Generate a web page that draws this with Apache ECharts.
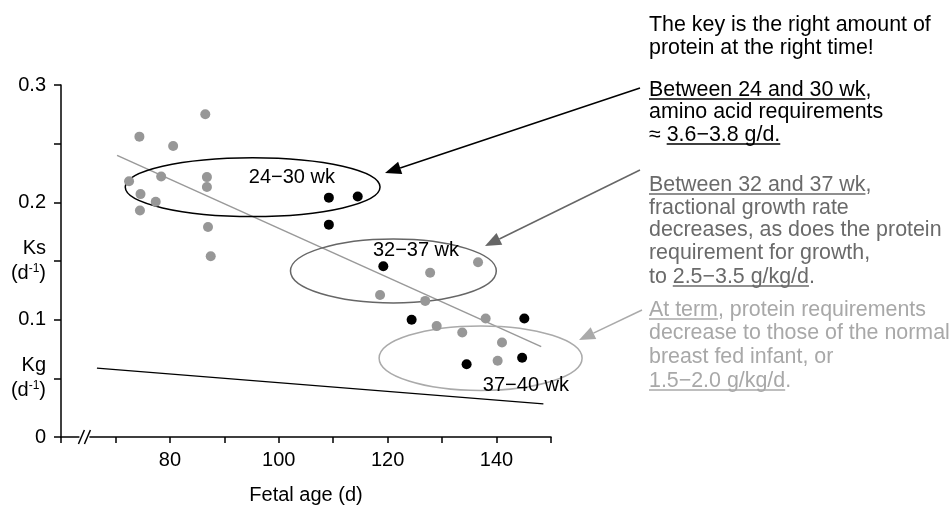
<!DOCTYPE html>
<html>
<head>
<meta charset="utf-8">
<script src="https://cdn.jsdelivr.net/npm/echarts@6/dist/echarts.min.js"></script>
<style>
  html, body { margin: 0; padding: 0; background: #fff; }
  #main { width: 950px; height: 509px; }
</style>
</head>
<body>
<div id="main"></div>
<script>
// values: fetal age (d) vs Ks (d-1)
var greyAge = [72.5, 74.4, 78.4, 74.6, 77.4, 74.5, 80.6, 86.5, 86.8, 86.8, 87.0, 87.5,
               127.8, 136.6, 118.6, 126.9, 129.0, 133.7, 138.0, 141.0, 140.2];
var greyKs  = [0.218, 0.256, 0.222, 0.207, 0.2005, 0.193, 0.248, 0.275, 0.2215, 0.213, 0.179, 0.154,
               0.140, 0.149, 0.121, 0.116, 0.0945, 0.089, 0.101, 0.0805, 0.065];
var blackAge = [109.2, 114.5, 109.2, 119.2, 124.4, 145.1, 134.5, 144.7];
var blackKs  = [0.204, 0.205, 0.181, 0.1455, 0.100, 0.101, 0.062, 0.0675];

// regression line of Ks and the Kg line (end points)
var ksFitAge = [70.3, 148.2];
var ksFit    = [0.240, 0.077];
var kgAge    = [66.6, 148.6];
var kgVal    = [0.0587, 0.0283];

// gestational groups (ellipses): centre and half widths in data units
var groupNames   = ['24−30 wk', '32−37 wk', '37−40 wk'];
var groupAge     = [95.2, 121.05, 137.07];
var groupKs      = [0.213, 0.1415, 0.0672];
var groupAgeHalf = [23.4, 18.9, 18.64];
var groupKsHalf  = [0.0251, 0.0272, 0.0275];
var groupLabelAge = [102.4, 125.2, 145.4];
var groupLabelKs  = [0.2215, 0.1588, 0.0439];

// axis ticks
var xTickLabels = [80, 100, 120, 140];
var yTickLabels = [0, 0.1, 0.2, 0.3];

var FONT = '"Liberation Sans", Arial, Helvetica, sans-serif';
var groupColors = ['#000', '#666', '#aaa'];

var myChart = echarts.init(document.getElementById('main'), null, { renderer: 'canvas' });

function pairs(xs, ys) {
  return xs.map(function (x, i) { return [x, ys[i]]; });
}

var ellipseData = groupAge.map(function (a, i) {
  return [a, groupKs[i], groupAgeHalf[i], groupKsHalf[i], groupLabelAge[i], groupLabelKs[i], i];
});

var option = {
  animation: false,
  backgroundColor: '#fff',
  textStyle: { fontFamily: FONT },
  grid: { left: 61, right: 399, top: 85, bottom: 72, containLabel: false, outerBoundsMode: 'none' },
  xAxis: {
    type: 'value', min: 60, max: 150, interval: 10,
    name: 'Fetal age (d)', nameLocation: 'middle', nameGap: 48,
    nameTextStyle: { fontSize: 20, color: '#000', fontFamily: FONT },
    axisLine: { lineStyle: { color: '#000', width: 1.5 } },
    axisTick: { length: 6, lineStyle: { color: '#000', width: 1.5 } },
    axisLabel: {
      fontSize: 20, color: '#000', margin: 13, fontFamily: FONT,
      formatter: function (v) { return xTickLabels.indexOf(v) >= 0 ? String(v) : ''; }
    },
    splitLine: { show: false }
  },
  yAxis: {
    type: 'value', min: 0, max: 0.3, interval: 0.05,
    axisLine: { show: true, lineStyle: { color: '#000', width: 1.5 } },
    axisTick: { show: true, length: 7, lineStyle: { color: '#000', width: 1.5 } },
    axisLabel: {
      fontSize: 20, color: '#000', margin: 15, fontFamily: FONT, lineHeight: 25,
      formatter: function (v) {
        var k = Math.round(v * 100);
        for (var i = 0; i < yTickLabels.length; i++) {
          if (Math.round(yTickLabels[i] * 100) === k) return String(yTickLabels[i]);
        }
        if (k === 15) return '{n|Ks}\n{n|(d}{s|-1}{n|)}';
        if (k === 5) return '{n|Kg}\n{n|(d}{s|-1}{n|)}';
        return '';
      },
      rich: {
        n: { fontSize: 20, color: '#000', fontFamily: FONT, lineHeight: 25 },
        s: { fontSize: 12, color: '#000', fontFamily: FONT, lineHeight: 25, padding: [0, 0, 10, 0] }
      }
    },
    splitLine: { show: false }
  },
  series: [
    {
      type: 'line', data: pairs(ksFitAge, ksFit), symbol: 'none',
      lineStyle: { color: '#999', width: 1.5 }, z: 2
    },
    {
      type: 'line', data: pairs(kgAge, kgVal), symbol: 'none',
      lineStyle: { color: '#000', width: 1.3 }, z: 2
    },
    {
      type: 'custom', z: 3,
      data: ellipseData,
      renderItem: function (params, api) {
        var c = api.coord([api.value(0), api.value(1)]);
        var s = api.size([api.value(2), api.value(3)]);
        var l = api.coord([api.value(4), api.value(5)]);
        var idx = api.value(6);
        return {
          type: 'group',
          children: [
            {
              type: 'ellipse',
              shape: { cx: c[0], cy: c[1], rx: s[0], ry: s[1] },
              style: { fill: 'none', stroke: groupColors[idx], lineWidth: 1.5 }
            },
            {
              type: 'text', x: l[0], y: l[1],
              style: {
                text: groupNames[idx], fill: '#000', font: '20px ' + FONT,
                align: 'center', verticalAlign: 'middle'
              }
            }
          ]
        };
      }
    },
    {
      type: 'scatter', data: pairs(greyAge, greyKs), symbolSize: 10,
      itemStyle: { color: '#979797', opacity: 1 }, z: 4
    },
    {
      type: 'scatter', data: pairs(blackAge, blackKs), symbolSize: 10,
      itemStyle: { color: '#000', opacity: 1 }, z: 5
    }
  ]
};

myChart.setOption(option);

// ---- annotations on the right ----
var measureCtx = document.createElement('canvas').getContext('2d');
function textWidth(t, size) {
  measureCtx.font = size + 'px ' + FONT;
  return measureCtx.measureText(t).width;
}

// each line: list of [text, underlined]
var notes = [
  { color: '#000', ys: [25, 48], lines: [
    [['The key is the right amount of', 0]],
    [['protein at the right time!', 0]]
  ]},
  { color: '#000', ys: [90, 112.5, 135], lines: [
    [['Between 24 and 30 wk', 1], [',', 0]],
    [['amino acid requirements', 0]],
    [['≈ ', 0], ['3.6−3.8 g/d.', 1]]
  ]},
  { color: '#6a6a6a', ys: [185, 208, 230.5, 253, 277], lines: [
    [['Between 32 and 37 wk', 1], [',', 0]],
    [['fractional growth rate', 0]],
    [['decreases, as does the protein', 0]],
    [['requirement for growth,', 0]],
    [['to ', 0], ['2.5−3.5 g/kg/d', 1], ['.', 0]]
  ]},
  { color: '#a8a8a8', ys: [310, 333.5, 357, 381], lines: [
    [['At term', 1], [', protein requirements', 0]],
    [['decrease to those of the normal', 0]],
    [['breast fed infant, or', 0]],
    [['1.5−2.0 g/kg/d', 1], ['.', 0]]
  ]}
];

var NOTE_SIZE = 21.4;
var NOTE_X = 649;
var graphics = [];
notes.forEach(function (b) {
  b.lines.forEach(function (segs, li) {
    var x = NOTE_X, y = b.ys[li];
    segs.forEach(function (seg) {
      var w = textWidth(seg[0], NOTE_SIZE);
      graphics.push({
        type: 'text', x: x, y: y, silent: true,
        style: { text: seg[0], fill: b.color, font: NOTE_SIZE + 'px ' + FONT, align: 'left', verticalAlign: 'middle' }
      });
      if (seg[1]) {
        graphics.push({
          type: 'line', silent: true,
          shape: { x1: x, y1: y + 9, x2: x + w, y2: y + 9 },
          style: { stroke: b.color, lineWidth: 1.3 }
        });
      }
      x += w;
    });
  });
});

// arrows from the notes to the groups
function arrow(x1, y1, x2, y2, color) {
  var ang = Math.atan2(y2 - y1, x2 - x1);
  var len = 16, half = 6.5;
  var bx = x2 - len * Math.cos(ang), by = y2 - len * Math.sin(ang);
  var nx = -Math.sin(ang), ny = Math.cos(ang);
  graphics.push({
    type: 'line', silent: true,
    shape: { x1: x1, y1: y1, x2: bx, y2: by },
    style: { stroke: color, lineWidth: 1.5 }
  });
  graphics.push({
    type: 'polygon', silent: true,
    shape: { points: [[x2, y2], [bx + nx * half, by + ny * half], [bx - nx * half, by - ny * half]] },
    style: { fill: color }
  });
}
arrow(640, 88, 385, 173, '#000');
arrow(640, 170, 485, 246, '#666');
arrow(642, 310, 579, 340, '#aaa');

// axis break mark
var o = myChart.convertToPixel({ gridIndex: 0 }, [64.3, 0]);
graphics.push({ type: 'rect', silent: true, shape: { x: o[0] - 5, y: o[1] - 2, width: 10, height: 4 }, style: { fill: '#fff' }, z: 100 });
[-3, 3].forEach(function (dx) {
  graphics.push({
    type: 'line', silent: true, z: 101,
    shape: { x1: o[0] + dx - 3, y1: o[1] + 7, x2: o[0] + dx + 3, y2: o[1] - 7 },
    style: { stroke: '#000', lineWidth: 1.5 }
  });
});

myChart.setOption({ graphic: graphics });
</script>
</body>
</html>
